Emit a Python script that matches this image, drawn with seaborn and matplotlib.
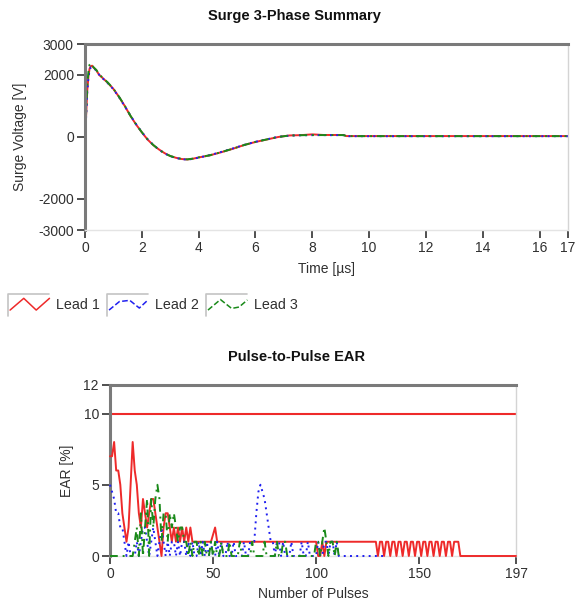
import matplotlib
matplotlib.use("Agg")
import matplotlib.pyplot as plt
import seaborn as sns
import numpy as np
import pandas as pd
from matplotlib.legend_handler import HandlerBase
from matplotlib.lines import Line2D

# ---- surge waveform ----
time_us = [0, 0.04, 0.08, 0.12, 0.16, 0.2, 0.25, 0.3, 0.4, 0.5, 0.6, 0.8, 1.0,
           1.2, 1.4, 1.6, 1.8, 2.0, 2.2, 2.4, 2.6, 2.8, 3.0, 3.2, 3.4, 3.6, 3.8,
           4.0, 4.4, 4.8, 5.2, 5.6, 6.0, 6.4, 6.8, 7.2, 7.6, 8.0, 8.4, 8.8, 9.1,
           9.2, 10, 12, 14, 16, 17]
lead1_v = [0, 700, 1500, 1950, 2200, 2280, 2300, 2240, 2150, 2000, 1920, 1750, 1550,
           1290, 1000, 680, 400, 150, -80, -260, -400, -520, -615, -670, -710, -725, -700,
           -660, -590, -490, -380, -260, -160, -80, 0, 50, 60, 85, 65, 65, 65,
           30, 30, 30, 30, 30, 30]
lead2_v = [0, 650, 1450, 1900, 2150, 2240, 2260, 2230, 2140, 2010, 1910, 1740, 1540,
           1280, 990, 690, 410, 160, -70, -250, -410, -530, -620, -675, -715, -730, -705,
           -665, -585, -480, -370, -255, -155, -75, 5, 45, 55, 60, 60, 60, 60,
           25, 25, 25, 25, 25, 25]
lead3_v = [0, 800, 1650, 2100, 2330, 2380, 2310, 2250, 2160, 2020, 1930, 1760, 1555,
           1295, 1005, 685, 405, 155, -75, -255, -405, -525, -612, -668, -708, -722, -698,
           -658, -588, -488, -378, -258, -158, -78, 2, 48, 58, 62, 62, 62, 62,
           28, 28, 28, 28, 28, 28]

# ---- pulse-to-pulse EAR [%] per pulse ----
ear_lead1 = [7, 7, 8, 6, 6, 5, 3, 2, 1, 2, 5, 8, 6, 5, 3, 2, 4, 3, 2, 3,
             4, 4, 3, 2, 1, 0, 2, 3, 3, 2, 1, 2, 1, 2, 1, 2, 1, 2, 1, 2,
             1, 1, 1, 1, 1, 1, 1, 1, 1, 1, 1.5, 2, 1, 1, 1, 1, 1, 1, 1, 1,
             1, 1, 1, 1, 1, 1, 1, 1, 1, 1, 1, 1, 1, 1, 1, 1, 1, 1, 1, 1,
             1, 1, 1, 1, 1, 1, 1, 1, 1, 1, 1, 1, 1, 1, 1, 1, 1, 1, 1, 1,
             1, 0, 0, 1, 0, 1, 1, 1, 1, 1, 1, 1, 1, 1, 1, 1, 1, 1, 1, 1,
             1, 1, 1, 1, 1, 1, 1, 1, 1, 1, 0, 1, 1, 0, 1, 1, 0, 1, 1, 0,
             1, 1, 0, 1, 1, 0, 1, 1, 0, 1, 1, 0, 1, 1, 0, 1, 1, 0, 1, 1,
             0, 1, 1, 0, 1, 1, 0, 1, 1, 1, 0, 0, 0, 0, 0, 0, 0, 0, 0, 0,
             0, 0, 0, 0, 0, 0, 0, 0, 0, 0, 0, 0, 0, 0, 0, 0, 0, 0]
ear_lead2 = [5, 4.5, 4, 3, 3, 2, 2, 1, 0, 1, 0, 0, 0, 1, 0, 1, 2, 2, 1, 0,
             1, 2, 1, 0, 1, 2, 1, 0, 1, 0, 1, 1, 0, 1, 0, 1, 1, 0, 1, 0,
             1, 0, 0, 1, 0, 1, 0, 1, 0, 1, 0, 0, 1, 0, 1, 0, 0, 1, 0, 0,
             1, 0, 0, 0, 0, 1, 0, 0, 1, 1, 1, 3, 4.5, 5, 4.5, 4, 3, 2, 1, 1,
             0, 1, 1, 0, 1, 0, 0, 0, 1, 0, 0, 0, 0, 1, 0, 0, 1, 0, 0, 0,
             0, 1, 0, 0, 1, 1, 0, 1, 1, 0, 1, 0, 0, 0, 0, 0, 0, 0, 0, 0,
             0, 0, 0, 0, 0, 0, 0, 0, 0, 0, 0, 0, 0, 0]
ear_lead3 = [0, 0, 0, 0, 0, 0, 0, 0, 0, 0, 0, 0, 1, 2, 0, 3, 0, 2, 4, 0,
             4, 2, 4, 5, 4, 1, 3, 3, 1, 3, 2, 3, 2, 1, 2, 2, 1, 1, 0, 1,
             0, 1, 1, 0, 1, 0, 1, 0, 0, 1, 0, 1, 0, 0, 1, 0, 0, 0, 1, 0,
             0, 0, 0, 1, 0, 0, 0, 0, 0, 1, 0, 0, 0, 0, 0, 1, 0, 0, 0, 0,
             0, 1, 0, 0, 1, 1, 0, 0, 0, 0, 0, 0, 0, 0, 0, 0, 0, 0, 0, 0,
             1, 1, 0, 1, 2, 1, 0, 1, 1, 0, 1, 0, 0]
ear_limit = 10

lead_names = ["Lead 1", "Lead 2", "Lead 3"]
lead_colors = ["#ee2a2a", "#2020f0", "#1a8a1a"]
lead_styles = ["-", (0, (1, 2.2)), (0, (4, 2.5, 1, 2.5))]

FS = 10

sns.set_theme(style="white")
plt.rcParams["font.family"] = ["Liberation Sans", "DejaVu Sans"]
plt.rcParams["axes.unicode_minus"] = False
plt.rcParams["text.color"] = "#303030"
plt.rcParams["axes.labelcolor"] = "#303030"
plt.rcParams["xtick.color"] = "#303030"
plt.rcParams["ytick.color"] = "#303030"

fig = plt.figure(figsize=(5.77, 6.0), dpi=100)
ax1 = fig.add_axes([85 / 577, 1 - 230 / 600, (568 - 85) / 577, (230 - 44) / 600])
ax2 = fig.add_axes([110 / 577, 1 - 556 / 600, (516 - 110) / 577, (556 - 385) / 600])


def style_axes(ax):
    ax.set_facecolor("white")
    ax.spines["top"].set_color("#7a7a7a")
    ax.spines["top"].set_linewidth(2.2)
    ax.spines["left"].set_color("#7a7a7a")
    ax.spines["left"].set_linewidth(2.2)
    ax.spines["right"].set_color("#d4d4d4")
    ax.spines["right"].set_linewidth(1)
    ax.spines["bottom"].set_color("#e4e4e4")
    ax.spines["bottom"].set_linewidth(1)
    ax.tick_params(axis="both", which="major", bottom=True, left=True,
                   direction="out", length=6, width=1.4,
                   color="#505050", labelsize=FS, pad=2)
    ax.grid(False)


# ---- top: surge waveform ----
surge = pd.DataFrame({"t": time_us * 3,
                      "v": lead1_v + lead2_v + lead3_v,
                      "lead": sum([[n] * len(time_us) for n in lead_names], [])})
handles = []
for name, col, ls in zip(lead_names, lead_colors, lead_styles):
    sns.lineplot(data=surge[surge["lead"] == name], x="t", y="v", ax=ax1,
                 color=col, linestyle=ls, linewidth=1.4, estimator=None, sort=False)
    handles.append(Line2D([], [], color=col, linestyle=ls, linewidth=1.1))

ax1.set_xlim(0, 17)
ax1.set_ylim(-3000, 3000)
ax1.set_xticks([0, 2, 4, 6, 8, 10, 12, 14, 16, 17])
ax1.set_yticks([-3000, -2000, 0, 2000, 3000])
ax1.set_xlabel("Time [µs]", labelpad=5, fontsize=FS)
ax1.set_ylabel("Surge Voltage [V]", labelpad=8, fontsize=FS)
style_axes(ax1)
fig.text(294 / 577, 1 - 16 / 600, "Surge 3-Phase Summary", ha="center", va="center",
         fontsize=10.5, fontweight="bold", color="#101010")


# ---- legend with boxed zigzag icons ----
class BoxZigzag(HandlerBase):
    def __init__(self, fx, fy):
        super().__init__()
        self.fx = fx
        self.fy = fy

    def create_artists(self, legend, orig_handle, xdescent, ydescent,
                       width, height, fontsize, trans):
        x0, y0 = -xdescent, -ydescent
        frame = Line2D([x0, x0, x0 + width], [y0 - 0.1 * height, y0 + height, y0 + height],
                       color="#c4c4c4", linewidth=1.2, transform=trans)
        zig = Line2D([x0 + f * width for f in self.fx], [y0 + f * height for f in self.fy],
                     color=orig_handle.get_color(), linestyle=orig_handle.get_linestyle(),
                     linewidth=orig_handle.get_linewidth(), transform=trans)
        return [frame, zig]


handler_map = {
    handles[0]: BoxZigzag([0.05, 0.38, 0.68, 1.0], [0.2, 0.78, 0.2, 0.78]),
    handles[1]: BoxZigzag([0.05, 0.3, 0.55, 0.78, 1.0], [0.2, 0.62, 0.68, 0.3, 0.72]),
    handles[2]: BoxZigzag([0.05, 0.35, 0.62, 0.8, 1.0], [0.2, 0.72, 0.28, 0.35, 0.7]),
}
fig.legend(handles, lead_names, handler_map=handler_map, loc="center left",
           bbox_to_anchor=(8 / 577, 1 - 304 / 600), ncol=3, frameon=False,
           handlelength=2.9, handleheight=1.8, handletextpad=0.45,
           columnspacing=0.5, borderpad=0, borderaxespad=0, fontsize=FS + 0.3)

# ---- bottom: pulse-to-pulse EAR ----
ear = pd.DataFrame({
    "pulse": list(range(len(ear_lead1))) + list(range(len(ear_lead2))) + list(range(len(ear_lead3))),
    "ear": ear_lead1 + ear_lead2 + ear_lead3,
    "lead": [lead_names[0]] * len(ear_lead1) + [lead_names[1]] * len(ear_lead2)
            + [lead_names[2]] * len(ear_lead3),
})
ax2.axhline(ear_limit, color=lead_colors[0], linewidth=1.5)
for name, col, ls in zip(lead_names, lead_colors, lead_styles):
    sns.lineplot(data=ear[ear["lead"] == name], x="pulse", y="ear", ax=ax2,
                 color=col, linestyle=ls, linewidth=1.4, estimator=None, sort=False,
                 clip_on=False, zorder=3)

ax2.set_xlim(0, 197)
ax2.set_ylim(0, 12)
ax2.set_xticks([0, 50, 100, 150, 197])
ax2.set_yticks([0, 5, 10, 12])
ax2.set_xlabel("Number of Pulses", labelpad=4, fontsize=FS)
ax2.set_ylabel("EAR [%]", labelpad=7, fontsize=FS)
style_axes(ax2)
fig.text(296 / 577, 1 - 357 / 600, "Pulse-to-Pulse EAR", ha="center", va="center",
         fontsize=10.5, fontweight="bold", color="#101010")

fig.savefig("out.png", dpi=100, facecolor="white")
